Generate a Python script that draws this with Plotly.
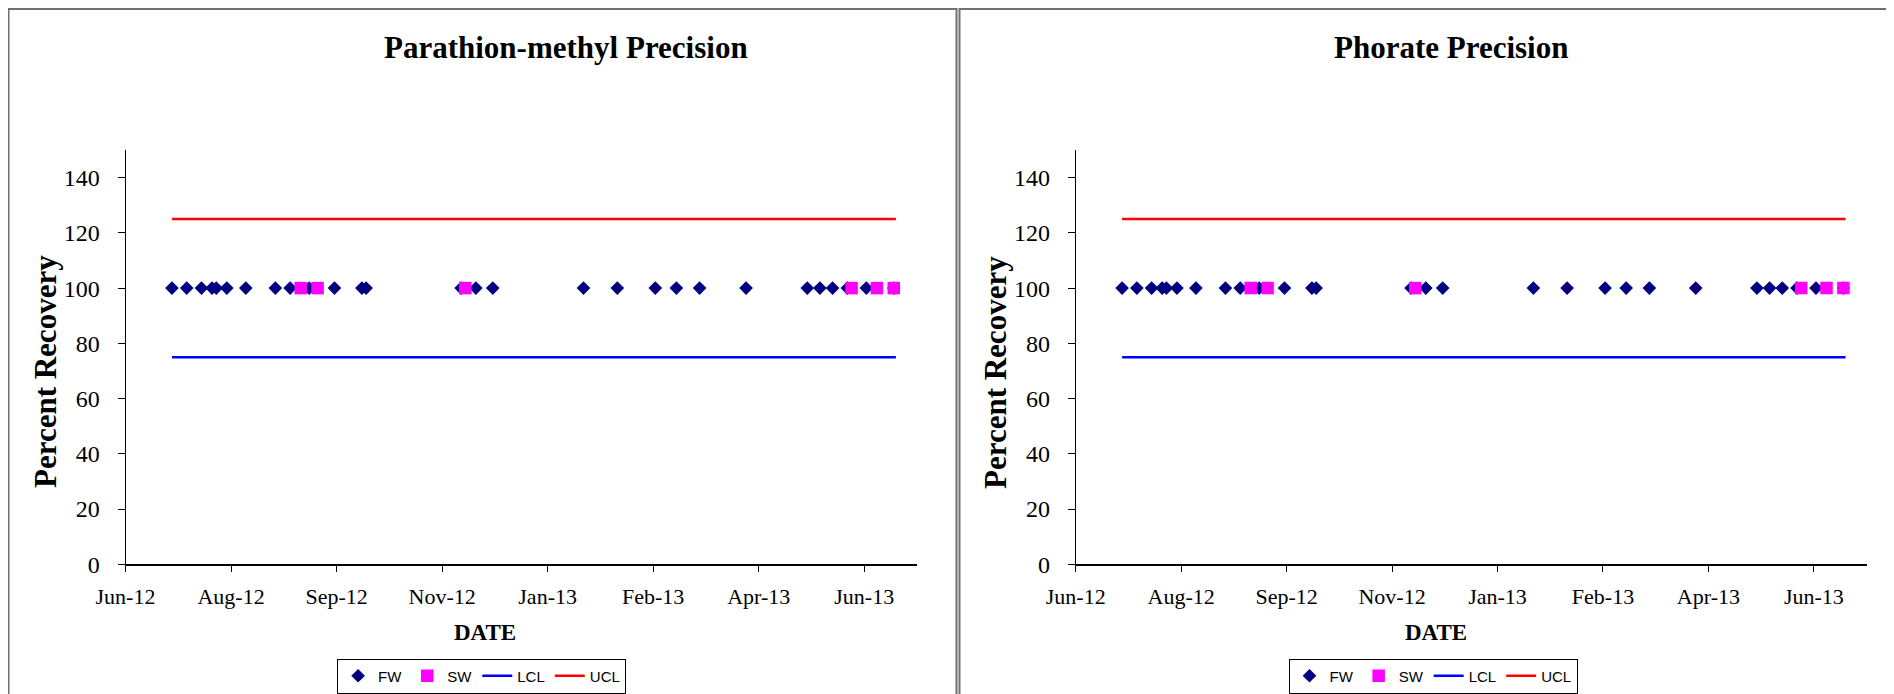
import plotly.graph_objects as go

# ---- data ----
fw_dates = ["2012-07-10", "2012-07-17", "2012-07-24", "2012-07-29", "2012-07-31",
            "2012-08-05", "2012-08-14", "2012-08-28", "2012-09-04", "2012-09-13",
            "2012-09-25", "2012-10-08", "2012-10-10", "2012-11-24", "2012-12-01",
            "2012-12-09", "2013-01-21", "2013-02-06", "2013-02-24", "2013-03-06",
            "2013-03-17", "2013-04-08", "2013-05-07", "2013-05-13", "2013-05-19",
            "2013-05-26", "2013-06-04", "2013-06-17"]
fw_values = [100, 100, 100, 100, 100, 100, 100, 100, 100, 100,
             100, 100, 100, 100, 100, 100, 100, 100, 100, 100,
             100, 100, 100, 100, 100, 100, 100, 100]

sw_dates = ["2012-09-09", "2012-09-17", "2012-11-26", "2013-05-28", "2013-06-09", "2013-06-17"]
sw_values = [100, 100, 100, 100, 100, 100]

limit_dates = ["2012-07-10", "2013-06-18"]
lcl_values = [75, 75]
ucl_values = [125, 125]

chart_titles = ["Parathion-methyl Precision", "Phorate Precision"]
x_tick_dates = ["2012-06-18", "2012-08-07", "2012-09-26", "2012-11-15",
                "2013-01-04", "2013-02-23", "2013-04-14", "2013-06-03"]
x_range = ["2012-06-18", "2013-06-28"]
y_ticks = [0, 20, 40, 60, 80, 100, 120, 140]

# page body has an 8px default margin, so the figure is sized to fit inside it
OFF = 8
W, H = 1894 - OFF, 694 - OFF
def px(x):
    return (x - OFF) / W
def py(y):
    return 1 - (y - OFF) / H

SERIF = "Liberation Serif"
SANS = "Liberation Sans"

fig = go.Figure()

panels = [
    dict(xa="x", ya="y", legend="legend"),
    dict(xa="x2", ya="y2", legend="legend2"),
]

for p in panels:
    fig.add_trace(go.Scatter(x=fw_dates, y=fw_values, mode="markers", name="FW",
                             marker=dict(symbol="diamond", size=10.5, color="#000080"),
                             xaxis=p["xa"], yaxis=p["ya"], legend=p["legend"]))
    fig.add_trace(go.Scatter(x=sw_dates, y=sw_values, mode="markers", name="SW",
                             marker=dict(symbol="square", size=12.5, color="#FF00FF"),
                             xaxis=p["xa"], yaxis=p["ya"], legend=p["legend"]))
    fig.add_trace(go.Scatter(x=limit_dates, y=lcl_values, mode="lines", name="LCL",
                             line=dict(color="#0000FF", width=2.5),
                             xaxis=p["xa"], yaxis=p["ya"], legend=p["legend"]))
    fig.add_trace(go.Scatter(x=limit_dates, y=ucl_values, mode="lines", name="UCL",
                             line=dict(color="#FF0000", width=2.5),
                             xaxis=p["xa"], yaxis=p["ya"], legend=p["legend"]))

xaxis_common = dict(type="date", range=x_range, tickvals=x_tick_dates, tickformat="%b-%y",
                    showline=True, linecolor="black", linewidth=1.5, ticks="outside",
                    ticklen=6, tickcolor="black", showgrid=False, zeroline=False,
                    tickfont=dict(family=SERIF, size=22, color="black"),
                    ticklabelstandoff=6, fixedrange=True, automargin=False)
yaxis_common = dict(range=[0, 150], tickvals=y_ticks, showline=True, linecolor="black",
                    linewidth=1, ticks="outside", ticklen=7, tickcolor="black",
                    showgrid=False, zeroline=False,
                    tickfont=dict(family=SERIF, size=24, color="black"),
                    ticklabelstandoff=13, fixedrange=True, automargin=False)

yd = (py(564.3), py(150))
legend_common = dict(orientation="h", xanchor="center", yanchor="middle",
                     bordercolor="black", borderwidth=1, bgcolor="white",
                     font=dict(family=SANS, size=15, color="black"), tracegroupgap=0)
fig.update_layout(
    width=W, height=H,
    margin=dict(l=0, r=0, t=0, b=0, autoexpand=False),
    paper_bgcolor="white", plot_bgcolor="white",
    xaxis=dict(domain=(px(125.5), px(917)), anchor="y", **xaxis_common),
    yaxis=dict(domain=yd, anchor="x", **yaxis_common),
    xaxis2=dict(domain=(px(1075.7), px(1866.6)), anchor="y2", **xaxis_common),
    yaxis2=dict(domain=yd, anchor="x2", **yaxis_common),
    legend=dict(x=px(481.6), y=py(676), **legend_common),
    legend2=dict(x=px(1433), y=py(676), **legend_common),
    showlegend=True,
)

title_x = [566, 1451]
date_x = [485, 1436]
ytitle_x = [45, 995]
for i in range(2):
    fig.add_annotation(text="<b>" + chart_titles[i] + "</b>", x=px(title_x[i]), y=py(47),
                       xref="paper", yref="paper", showarrow=False,
                       xanchor="center", yanchor="middle",
                       font=dict(family=SERIF, size=31, color="black"))
    fig.add_annotation(text="<b>DATE</b>", x=px(date_x[i]), y=py(632),
                       xref="paper", yref="paper", showarrow=False,
                       xanchor="center", yanchor="middle",
                       font=dict(family=SERIF, size=23, color="black"))
    fig.add_annotation(text="<b>Percent Recovery</b>", x=px(ytitle_x[i]), y=py(372),
                       xref="paper", yref="paper", showarrow=False, textangle=-90,
                       xanchor="center", yanchor="middle",
                       font=dict(family=SERIF, size=31, color="black"))

# chart-area borders
fig.add_shape(type="rect", xref="paper", yref="paper",
              x0=px(8.5), x1=px(956.5), y0=py(720), y1=py(9),
              line=dict(color="#707070", width=2))
fig.add_shape(type="rect", xref="paper", yref="paper",
              x0=px(959.5), x1=px(1920), y0=py(720), y1=py(9),
              line=dict(color="#707070", width=2))

fig.write_html("out.html", config={"displayModeBar": False})
